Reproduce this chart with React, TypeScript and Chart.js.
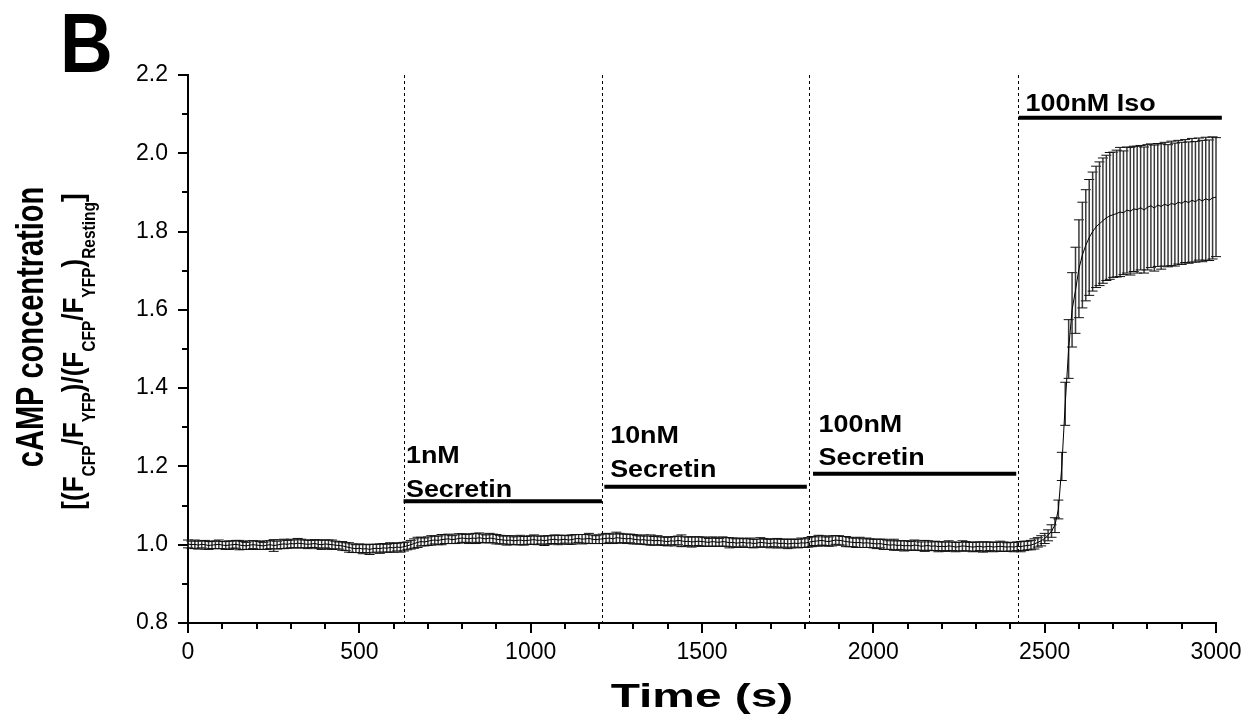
import React, { useEffect, useRef } from 'react';
import { Chart, registerables } from 'chart.js';

Chart.register(...registerables);

// ---------------- data ----------------
const SAMPLE_INTERVAL_S = 10;

// mean normalized FRET ratio, one value every 10 s from 0 to 3000 s
const meanRatio = [
  1.002, 1.000, 1.001, 0.999, 1.001, 1.000, 0.998, 0.999, 1.000, 1.001,
  0.999, 0.998, 0.999, 1.000, 1.001, 0.999, 0.998, 0.997, 0.999, 1.000,
  0.999, 0.998, 0.997, 0.999, 1.000, 0.998, 0.999, 1.001, 1.002, 1.001,
  1.003, 1.002, 1.004, 1.003, 1.002, 1.001, 1.002, 1.003, 1.001, 1.000,
  1.002, 1.001, 1.000, 0.999, 0.998, 0.997, 0.995, 0.993, 0.991, 0.990,
  0.991, 0.989, 0.990, 0.988, 0.990, 0.991, 0.990, 0.992, 0.991, 0.993,
  0.992, 0.994, 0.993, 0.995, 0.997, 1.000, 1.003, 1.006, 1.008, 1.007,
  1.009, 1.011, 1.012, 1.011, 1.013, 1.014, 1.015, 1.013, 1.014, 1.016,
  1.017, 1.016, 1.015, 1.017, 1.016, 1.018, 1.016, 1.015, 1.017, 1.016,
  1.014, 1.013, 1.012, 1.011, 1.012, 1.010, 1.011, 1.012, 1.010, 1.011,
  1.012, 1.013, 1.011, 1.012, 1.010, 1.012, 1.013, 1.014, 1.012, 1.013,
  1.014, 1.012, 1.013, 1.015, 1.016, 1.014, 1.015, 1.016, 1.014, 1.013,
  1.014, 1.015, 1.016, 1.017, 1.015, 1.018, 1.017, 1.016, 1.015, 1.016,
  1.014, 1.013, 1.012, 1.013, 1.011, 1.012, 1.010, 1.011, 1.010, 1.009,
  1.008, 1.010, 1.009, 1.011, 1.010, 1.008, 1.009, 1.007, 1.008, 1.009,
  1.008, 1.007, 1.006, 1.008, 1.007, 1.006, 1.008, 1.007, 1.005, 1.006,
  1.004, 1.005, 1.006, 1.004, 1.005, 1.003, 1.004, 1.006, 1.005, 1.004,
  1.003, 1.005, 1.004, 1.003, 1.004, 1.002, 1.003, 1.004, 1.003, 1.005,
  1.004, 1.006, 1.008, 1.009, 1.010, 1.011, 1.009, 1.008, 1.010, 1.012,
  1.011, 1.010, 1.008, 1.007, 1.006, 1.005, 1.006, 1.004, 1.005, 1.004,
  1.003, 1.002, 1.003, 1.001, 1.000, 0.999, 1.000, 0.998, 0.999, 0.997,
  0.998, 0.997, 0.999, 0.998, 0.996, 0.997, 0.998, 0.996, 0.997, 0.995,
  0.996, 0.995, 0.997, 0.996, 0.994, 0.995, 0.997, 0.996, 0.995, 0.994,
  0.995, 0.996, 0.994, 0.995, 0.996, 0.994, 0.995, 0.996, 0.995, 0.994,
  0.995, 0.994, 0.996, 0.995, 0.997, 0.998, 0.999, 1.002, 1.006, 1.010,
  1.016, 1.024, 1.035, 1.050, 1.090, 1.200, 1.360, 1.500, 1.600, 1.650,
  1.705, 1.740, 1.765, 1.785, 1.800, 1.812, 1.820, 1.828, 1.835, 1.840,
  1.843, 1.846, 1.850, 1.848, 1.855, 1.852, 1.858, 1.856, 1.861, 1.855,
  1.862, 1.866, 1.860, 1.868, 1.864, 1.870, 1.866, 1.872, 1.869, 1.875,
  1.872, 1.878, 1.874, 1.880, 1.876, 1.883, 1.878, 1.884, 1.880, 1.886,
  1.888,
];

// standard error of the mean for each sample
const semRatio = [
  0.010, 0.009, 0.011, 0.010, 0.009, 0.011, 0.010, 0.009, 0.010, 0.011,
  0.009, 0.010, 0.011, 0.009, 0.010, 0.012, 0.010, 0.009, 0.011, 0.010,
  0.011, 0.010, 0.009, 0.011, 0.010, 0.015, 0.010, 0.011, 0.012, 0.010,
  0.011, 0.010, 0.012, 0.011, 0.010, 0.011, 0.009, 0.010, 0.011, 0.012,
  0.010, 0.011, 0.012, 0.010, 0.009, 0.011, 0.010, 0.012, 0.011, 0.010,
  0.011, 0.012, 0.010, 0.013, 0.011, 0.010, 0.012, 0.011, 0.010, 0.012,
  0.011, 0.010, 0.012, 0.011, 0.010, 0.011, 0.012, 0.013, 0.011, 0.010,
  0.011, 0.012, 0.010, 0.011, 0.013, 0.011, 0.012, 0.010, 0.011, 0.012,
  0.011, 0.010, 0.012, 0.011, 0.013, 0.012, 0.011, 0.010, 0.012, 0.011,
  0.012, 0.011, 0.010, 0.012, 0.011, 0.010, 0.011, 0.012, 0.011, 0.010,
  0.011, 0.012, 0.011, 0.010, 0.012, 0.011, 0.010, 0.011, 0.012, 0.011,
  0.010, 0.011, 0.012, 0.011, 0.010, 0.012, 0.011, 0.013, 0.011, 0.010,
  0.011, 0.012, 0.013, 0.011, 0.012, 0.014, 0.012, 0.011, 0.012, 0.011,
  0.012, 0.011, 0.010, 0.012, 0.011, 0.013, 0.011, 0.012, 0.010, 0.011,
  0.011, 0.010, 0.012, 0.011, 0.015, 0.012, 0.011, 0.013, 0.012, 0.011,
  0.012, 0.011, 0.010, 0.012, 0.011, 0.010, 0.012, 0.011, 0.013, 0.011,
  0.011, 0.012, 0.010, 0.011, 0.012, 0.011, 0.010, 0.012, 0.011, 0.010,
  0.011, 0.010, 0.012, 0.011, 0.010, 0.012, 0.011, 0.010, 0.011, 0.012,
  0.011, 0.012, 0.013, 0.011, 0.014, 0.012, 0.011, 0.012, 0.013, 0.011,
  0.012, 0.011, 0.013, 0.012, 0.011, 0.012, 0.013, 0.011, 0.012, 0.011,
  0.011, 0.012, 0.011, 0.013, 0.012, 0.011, 0.014, 0.012, 0.011, 0.013,
  0.012, 0.011, 0.013, 0.012, 0.011, 0.014, 0.012, 0.011, 0.012, 0.013,
  0.011, 0.012, 0.013, 0.011, 0.012, 0.011, 0.013, 0.012, 0.011, 0.012,
  0.012, 0.011, 0.013, 0.012, 0.011, 0.012, 0.011, 0.013, 0.012, 0.011,
  0.011, 0.012, 0.011, 0.013, 0.012, 0.011, 0.012, 0.013, 0.012, 0.013,
  0.013, 0.014, 0.016, 0.019, 0.024, 0.036, 0.055, 0.075, 0.095, 0.110,
  0.125, 0.135, 0.142, 0.148, 0.152, 0.155, 0.158, 0.160, 0.160, 0.162,
  0.160, 0.162, 0.165, 0.158, 0.161, 0.163, 0.160, 0.162, 0.159, 0.161,
  0.160, 0.158, 0.161, 0.157, 0.160, 0.158, 0.156, 0.159, 0.157, 0.158,
  0.156, 0.157, 0.155, 0.158, 0.154, 0.156, 0.155, 0.157, 0.154, 0.156,
  0.152,
];

const timeS = meanRatio.map((_, i) => i * SAMPLE_INTERVAL_S);

// axes
const X_MIN = 0;
const X_MAX = 3000;
const X_MAJOR = 500;
const X_MINOR = 100;
const Y_MIN = 0.8;
const Y_MAX = 2.2;
const Y_MAJOR = 0.2;
const Y_MINOR = 0.1;

// treatments
const additionTimes = [629, 1208, 1813, 2423];
const treatmentNames = [['1nM', 'Secretin'], ['10nM', 'Secretin'], ['100nM', 'Secretin'], ['100nM Iso']];
const treatmentStart = [629, 1215, 1824, 2424];
const treatmentEnd = [1208, 1806, 2417, 3017];
const treatmentLevel = [1.111, 1.148, 1.181, 2.091];
const labelTime = [636, 1232, 1840, 2444];
const labelBaseline = [1.122, 1.173, 1.203, 2.107];

const FONT = 'Arial, "Liberation Sans", Helvetica, sans-serif';

type Seg = { t: string; sub?: boolean };
const yTitleLine2: Seg[] = [
  { t: '[(F' }, { t: 'CFP', sub: true }, { t: '/F' }, { t: 'YFP', sub: true },
  { t: ')/(F' }, { t: 'CFP', sub: true }, { t: '/F' }, { t: 'YFP', sub: true },
  { t: ')' }, { t: 'Resting', sub: true }, { t: ']' },
];

function drawScaledText(ctx: CanvasRenderingContext2D, text: string, x: number, y: number, size: number, sx: number, align: CanvasTextAlign = 'left') {
  ctx.save();
  ctx.translate(x, y);
  ctx.scale(sx, 1);
  ctx.font = `bold ${size}px ${FONT}`;
  ctx.textAlign = align;
  ctx.textBaseline = 'alphabetic';
  ctx.fillStyle = '#000';
  ctx.fillText(text, 0, 0);
  ctx.restore();
}

const errorBarPlugin = {
  id: 'errorBars',
  beforeDatasetsDraw(chart: any) {
    const { ctx } = chart;
    const xs = chart.scales.x;
    const ys = chart.scales.y;
    ctx.save();
    for (let i = 0; i < meanRatio.length; i++) {
      const px = xs.getPixelForValue(timeS[i]);
      const top = ys.getPixelForValue(meanRatio[i] + semRatio[i]);
      const bot = ys.getPixelForValue(meanRatio[i] - semRatio[i]);
      ctx.strokeStyle = '#3a3a3a';
      ctx.lineWidth = 1.5;
      ctx.beginPath();
      ctx.moveTo(px, top);
      ctx.lineTo(px, bot);
      ctx.stroke();
      ctx.strokeStyle = '#111';
      ctx.lineWidth = 1;
      ctx.beginPath();
      ctx.moveTo(px - 5, top);
      ctx.lineTo(px + 5, top);
      ctx.moveTo(px - 5, bot);
      ctx.lineTo(px + 5, bot);
      ctx.stroke();
    }
    ctx.restore();
  },
};

const decorPlugin = {
  id: 'decor',
  afterDraw(chart: any) {
    const { ctx, chartArea } = chart;
    const xs = chart.scales.x;
    const ys = chart.scales.y;
    ctx.save();

    // ticks (major + minor), pointing outward
    ctx.strokeStyle = '#000';
    ctx.lineWidth = 2;
    ctx.beginPath();
    for (let v = X_MIN; v <= X_MAX + 1e-6; v += X_MINOR) {
      const px = Math.round(xs.getPixelForValue(v));
      const len = Math.abs(v % X_MAJOR) < 1e-6 ? 10 : 6;
      ctx.moveTo(px, chartArea.bottom);
      ctx.lineTo(px, chartArea.bottom + len);
    }
    const nY = Math.round((Y_MAX - Y_MIN) / Y_MINOR);
    for (let k = 0; k <= nY; k++) {
      const v = Y_MIN + k * Y_MINOR;
      const py = Math.round(ys.getPixelForValue(v));
      const len = k % 2 === 0 ? 10 : 6;
      ctx.moveTo(chartArea.left, py);
      ctx.lineTo(chartArea.left - len, py);
    }
    ctx.stroke();

    // dashed addition lines
    ctx.lineWidth = 1;
    ctx.setLineDash([3, 3]);
    ctx.beginPath();
    for (const t of additionTimes) {
      const px = Math.round(xs.getPixelForValue(t)) + 0.5;
      ctx.moveTo(px, chartArea.top);
      ctx.lineTo(px, chartArea.bottom);
    }
    ctx.stroke();
    ctx.setLineDash([]);

    // treatment bars
    ctx.lineWidth = 4;
    ctx.lineCap = 'butt';
    ctx.beginPath();
    for (let i = 0; i < treatmentStart.length; i++) {
      const py = ys.getPixelForValue(treatmentLevel[i]);
      ctx.moveTo(xs.getPixelForValue(treatmentStart[i]), py);
      ctx.lineTo(xs.getPixelForValue(treatmentEnd[i]), py);
    }
    ctx.stroke();

    // treatment labels
    for (let i = 0; i < treatmentNames.length; i++) {
      const lines = treatmentNames[i];
      const px = xs.getPixelForValue(labelTime[i]);
      const base = ys.getPixelForValue(labelBaseline[i]);
      for (let j = 0; j < lines.length; j++) {
        const y = base - (lines.length - 1 - j) * 33.5;
        drawScaledText(ctx, lines[j], px, y, 23, 1.17);
      }
    }

    // panel letter
    drawScaledText(ctx, 'B', 60, 72, 84, 0.87);

    // x title
    drawScaledText(ctx, 'Time (s)', (chartArea.left + chartArea.right) / 2, 707, 33, 1.45, 'center');

    // y title line 1
    ctx.save();
    ctx.translate(43, 327);
    ctx.rotate(-Math.PI / 2);
    ctx.scale(1, 1.35);
    ctx.font = `bold 29px ${FONT}`;
    ctx.textAlign = 'center';
    ctx.textBaseline = 'alphabetic';
    ctx.fillStyle = '#000';
    ctx.fillText('cAMP concentration', 0, 0);
    ctx.restore();

    // y title line 2 with subscripts
    ctx.save();
    ctx.translate(83, 351.5);
    ctx.rotate(-Math.PI / 2);
    ctx.scale(1, 1.15);
    ctx.fillStyle = '#000';
    ctx.textBaseline = 'alphabetic';
    ctx.textAlign = 'left';
    const mainFont = `bold 26px ${FONT}`;
    const subFont = `bold 15.5px ${FONT}`;
    let total = 0;
    for (const s of yTitleLine2) {
      ctx.font = s.sub ? subFont : mainFont;
      total += ctx.measureText(s.t).width;
    }
    let cx = -total / 2;
    for (const s of yTitleLine2) {
      ctx.font = s.sub ? subFont : mainFont;
      ctx.fillText(s.t, cx, s.sub ? 10.4 : 0);
      cx += ctx.measureText(s.t).width;
    }
    ctx.restore();

    ctx.restore();
  },
};

export default function App() {
  const canvasRef = useRef<HTMLCanvasElement | null>(null);

  useEffect(() => {
    const canvas = canvasRef.current;
    if (!canvas) return;
    const chart = new Chart(canvas, {
      type: 'line',
      data: {
        datasets: [
          {
            label: 'cAMP',
            data: timeS.map((t, i) => ({ x: t, y: meanRatio[i] })),
            borderColor: '#000',
            borderWidth: 1,
            pointRadius: 0,
            tension: 0,
            fill: false,
          },
        ],
      },
      options: {
        animation: false,
        responsive: false,
        events: [],
        layout: { padding: { top: 75, right: 38, bottom: 0, left: 0 } },
        plugins: { legend: { display: false }, tooltip: { enabled: false } },
        scales: {
          x: {
            type: 'linear',
            min: X_MIN,
            max: X_MAX,
            afterFit: (s: any) => { s.height = 99; },
            ticks: {
              stepSize: X_MAJOR,
              autoSkip: false,
              maxRotation: 0,
              padding: 6,
              color: '#000',
              font: { family: FONT, size: 23 },
              callback: (v: any) => String(v),
            },
            grid: { display: true, drawOnChartArea: false, drawTicks: true, tickLength: 10, tickColor: 'rgba(0,0,0,0)' },
            border: { display: true, color: '#000', width: 2 },
          },
          y: {
            type: 'linear',
            min: Y_MIN,
            max: Y_MAX,
            afterFit: (s: any) => { s.width = 188; },
            ticks: {
              stepSize: Y_MAJOR,
              padding: 10,
              color: '#000',
              font: { family: FONT, size: 23 },
              callback: (v: any) => Number(v).toFixed(1),
            },
            grid: { display: true, drawOnChartArea: false, drawTicks: true, tickLength: 10, tickColor: 'rgba(0,0,0,0)' },
            border: { display: true, color: '#000', width: 2 },
          },
        },
      },
      plugins: [errorBarPlugin, decorPlugin],
    });
    return () => chart.destroy();
  }, []);

  return (
    <div style={{ position: 'fixed', left: 0, top: 0, width: 1254, height: 722, background: '#fff' }}>
      <canvas ref={canvasRef} width={1254} height={722} style={{ display: 'block' }} />
    </div>
  );
}
